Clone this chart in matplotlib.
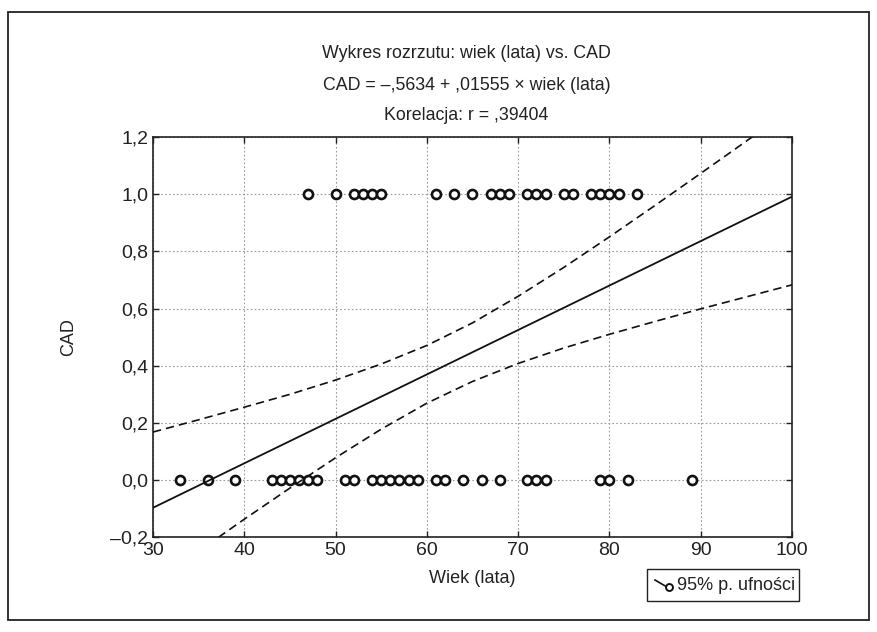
import matplotlib.pyplot as plt
from matplotlib.patches import Rectangle
from matplotlib.lines import Line2D

plt.rcParams['font.family'] = ['Liberation Sans', 'DejaVu Sans']

# ages of patients without CAD (CAD = 0) and with CAD (CAD = 1)
age_cad0 = [33, 36, 39, 43, 44, 45, 46, 47, 48, 51, 52, 54, 55, 56, 57, 58, 59,
            61, 62, 64, 66, 68, 71, 72, 73, 79, 80, 82, 89]
age_cad1 = [47, 50, 52, 53, 54, 55, 61, 63, 65, 67, 68, 69, 71, 72, 73, 75, 76,
            78, 79, 80, 81, 83]

# regression line from the chart title
intercept = -0.5634
slope = 0.01555

# 95% confidence band
band_x = [30, 35, 40, 45, 50, 55, 60, 65, 70, 75, 80, 85, 90, 95, 100]
band_upper = [0.168, 0.211, 0.255, 0.300, 0.350, 0.406, 0.471, 0.550, 0.643,
              0.744, 0.851, 0.961, 1.073, 1.186, 1.300]
band_lower = [-0.362, -0.249, -0.137, -0.028, 0.078, 0.178, 0.269, 0.345, 0.408,
              0.462, 0.510, 0.555, 0.599, 0.641, 0.683]

x_ticks = [30, 40, 50, 60, 70, 80, 90, 100]
y_ticks = [-0.2, 0.0, 0.2, 0.4, 0.6, 0.8, 1.0, 1.2]
y_tick_labels = ['\u20130,2', '0,0', '0,2', '0,4', '0,6', '0,8', '1,0', '1,2']

fig = plt.figure(figsize=(8.77, 6.32), dpi=100)
ax = fig.add_axes([0.1745, 0.150, 0.7285, 0.633])

# frame around the whole figure
fig.patches.append(Rectangle((8 / 877, 12 / 632), 861 / 877, 608 / 632,
                             transform=fig.transFigure, fill=False,
                             edgecolor='#222222', linewidth=1.3))

ax.grid(True, which='major', linestyle=(0, (1.5, 2)), color='#999999', linewidth=0.8)
ax.set_axisbelow(True)

ax.plot(age_cad0, [0] * len(age_cad0), 'o', mfc='white', mec='#111111',
        ms=6.5, mew=1.9, zorder=3)
ax.plot(age_cad1, [1] * len(age_cad1), 'o', mfc='white', mec='#111111',
        ms=6.5, mew=1.9, zorder=3)

line_x = [30, 100]
line_y = [intercept + slope * x for x in line_x]
ax.plot(line_x, line_y, color='#111111', linewidth=1.3, zorder=4)

ax.plot(band_x, band_upper, color='#111111', linewidth=1.2, linestyle=(0, (5, 3)), zorder=4)
ax.plot(band_x, band_lower, color='#111111', linewidth=1.2, linestyle=(0, (5, 3)), zorder=4)

ax.set_xlim(30, 100)
ax.set_ylim(-0.2, 1.2)
ax.set_xticks(x_ticks)
ax.set_yticks(y_ticks)
ax.set_yticklabels(y_tick_labels)
ax.tick_params(direction='in', length=4, width=1, labelsize=14, colors='#222222',
               top=True, right=True)
for s in ax.spines.values():
    s.set_linewidth(1.2)
    s.set_color('#222222')

ax.set_xlabel('Wiek (lata)', fontsize=13, labelpad=8, color='#222222')
ax.set_ylabel('CAD', fontsize=13, labelpad=24, color='#222222')

title_lines = ['Wykres rozrzutu: wiek (lata) vs. CAD',
               'CAD = \u2013,5634 + ,01555 \u00d7 wiek (lata)',
               'Korelacja: r = ,39404']
for txt, yy in zip(title_lines, [0.915, 0.865, 0.817]):
    fig.text(0.532, yy, txt, ha='center', va='center', fontsize=12.8, color='#222222')

# legend box
fig.patches.append(Rectangle((647 / 877, 1 - 601 / 632), 152 / 877, 32 / 632,
                             transform=fig.transFigure, fill=False,
                             edgecolor='#222222', linewidth=1.0))
fig.lines.append(Line2D([655 / 877, 667 / 877], [1 - 580 / 632, 1 - 587 / 632],
                        transform=fig.transFigure, color='#111111', linewidth=1.2))
fig.lines.append(Line2D([669 / 877], [1 - 587 / 632], transform=fig.transFigure,
                        marker='o', mfc='white', mec='#111111', ms=5, mew=1.4))
fig.text(677 / 877, 1 - 585 / 632, '95% p. ufności', ha='left', va='center',
         fontsize=13, color='#222222')

fig.savefig('out.png', dpi=100)
